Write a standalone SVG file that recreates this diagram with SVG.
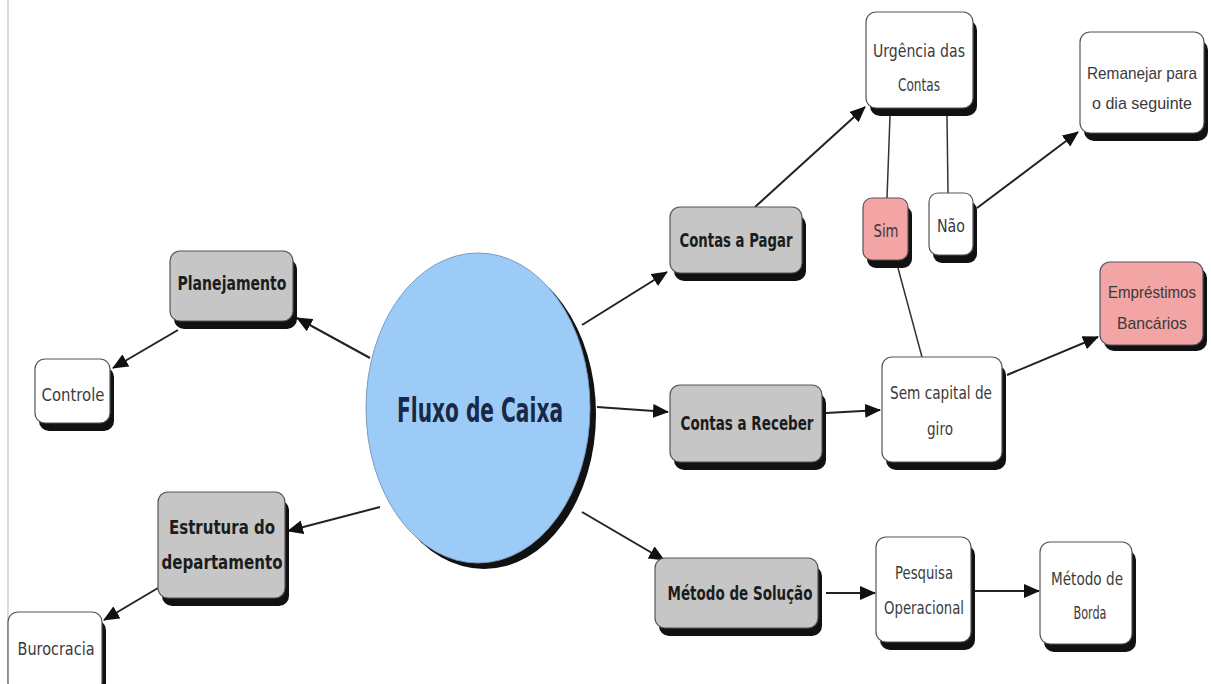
<svg xmlns="http://www.w3.org/2000/svg" width="1211" height="684" viewBox="0 0 1211 684">
<style>
.sh{fill:#111;}
.bx{stroke:#555;stroke-width:1.2;}
.g{fill:#c6c6c6;}
.w{fill:#ffffff;}
.p{fill:#f3a4a4;}
.tb{font-family:"DejaVu Sans",Verdana,sans-serif;font-weight:bold;font-size:19px;fill:#1c1c1c;text-anchor:middle;dominant-baseline:central;}
.tr{font-family:"DejaVu Sans",Verdana,sans-serif;font-size:18px;fill:#3a3a3a;text-anchor:middle;dominant-baseline:central;}
.tn{font-family:"Liberation Sans",Arial,sans-serif;font-size:17px;fill:#3a3a3a;text-anchor:middle;dominant-baseline:central;}
.ca{stroke:#222;stroke-width:2;fill:none;marker-end:url(#ah);}
.cl{stroke:#333;stroke-width:1.5;fill:none;}
</style>
<defs>
<marker id="ah" markerUnits="userSpaceOnUse" markerWidth="16" markerHeight="14" refX="15" refY="7" orient="auto">
<path d="M0,0 L16,7 L0,14 z" fill="#111"/>
</marker>
</defs>
<rect x="0" y="0" width="1211" height="684" fill="#ffffff"/>
<line x1="8" y1="0" x2="8" y2="684" stroke="#d0d0d0" stroke-width="1.5"/>
<g id="connectors">
<line class="ca" x1="370" y1="358" x2="297" y2="318"/>
<line class="ca" x1="178" y1="330" x2="113" y2="368"/>
<line class="ca" x1="380" y1="507" x2="288" y2="531"/>
<line class="ca" x1="158" y1="588" x2="104" y2="620"/>
<line class="ca" x1="582" y1="325" x2="667" y2="272"/>
<line class="ca" x1="597" y1="407" x2="668" y2="412"/>
<line class="ca" x1="582" y1="512" x2="664" y2="560"/>
<line class="ca" x1="755" y1="207" x2="865" y2="107"/>
<line class="cl" x1="890" y1="116" x2="887" y2="198"/>
<line class="cl" x1="947" y1="116" x2="948" y2="193"/>
<line class="ca" x1="977" y1="208" x2="1078" y2="132"/>
<line class="cl" x1="898" y1="268" x2="922" y2="357"/>
<line class="ca" x1="826" y1="413" x2="880" y2="410"/>
<line class="ca" x1="1007" y1="375" x2="1098" y2="337"/>
<line class="ca" x1="826" y1="593" x2="875" y2="593"/>
<line class="ca" x1="975" y1="591" x2="1039" y2="591"/>
</g>
<g id="fluxo">
<ellipse cx="484" cy="414" rx="112" ry="155" fill="#111"/>
<ellipse cx="478" cy="408" rx="112" ry="155" fill="#9ccbf7" stroke="#7a9cc0" stroke-width="1"/>
<text x="480" y="410" font-family="DejaVu Sans,Verdana,sans-serif" font-weight="bold" font-size="33" fill="#1a2745" text-anchor="middle" dominant-baseline="central" textLength="166" lengthAdjust="spacingAndGlyphs">Fluxo de Caixa</text>
</g>
<g id="planejamento">
<rect class="sh" x="174" y="259" width="123" height="70" rx="10"/>
<rect class="bx g" x="170" y="251" width="123" height="70" rx="10"/>
<text class="tb" x="232" y="283" textLength="109" lengthAdjust="spacingAndGlyphs">Planejamento</text>
</g>
<g id="controle">
<rect class="sh" x="39" y="367" width="75" height="64" rx="10"/>
<rect class="bx w" x="35" y="359" width="75" height="64" rx="10"/>
<text class="tr" x="73" y="394" textLength="63" lengthAdjust="spacingAndGlyphs">Controle</text>
</g>
<g id="estrutura">
<rect class="sh" x="162" y="500" width="127" height="106" rx="10"/>
<rect class="bx g" x="158" y="492" width="127" height="106" rx="10"/>
<text class="tb" x="222" y="527" textLength="106" lengthAdjust="spacingAndGlyphs">Estrutura do</text>
<text class="tb" x="222" y="562" textLength="121" lengthAdjust="spacingAndGlyphs">departamento</text>
</g>
<g id="burocracia">
<rect class="sh" x="12" y="620" width="94" height="80" rx="10"/>
<rect class="bx w" x="8" y="612" width="94" height="80" rx="10"/>
<text class="tr" x="56" y="648" textLength="77" lengthAdjust="spacingAndGlyphs">Burocracia</text>
</g>
<g id="contas-pagar">
<rect class="sh" x="674" y="215" width="132" height="66" rx="10"/>
<rect class="bx g" x="670" y="207" width="132" height="66" rx="10"/>
<text class="tb" x="736" y="240" textLength="113" lengthAdjust="spacingAndGlyphs">Contas a Pagar</text>
</g>
<g id="contas-receber">
<rect class="sh" x="674" y="393" width="152" height="77" rx="10"/>
<rect class="bx g" x="670" y="385" width="152" height="77" rx="10"/>
<text class="tb" x="747" y="423" textLength="133" lengthAdjust="spacingAndGlyphs">Contas a Receber</text>
</g>
<g id="metodo-solucao">
<rect class="sh" x="659" y="566" width="163" height="70" rx="10"/>
<rect class="bx g" x="655" y="558" width="163" height="70" rx="10"/>
<text class="tb" x="740" y="593" textLength="145" lengthAdjust="spacingAndGlyphs">Método de Solução</text>
</g>
<g id="urgencia">
<rect class="sh" x="870" y="20" width="107" height="96" rx="10"/>
<rect class="bx w" x="866" y="12" width="107" height="96" rx="10"/>
<text class="tr" x="919" y="50" textLength="92" lengthAdjust="spacingAndGlyphs">Urgência das</text>
<text class="tr" x="919" y="84" textLength="42" lengthAdjust="spacingAndGlyphs">Contas</text>
</g>
<g id="remanejar">
<rect class="sh" x="1084" y="40" width="124" height="101" rx="10"/>
<rect class="bx w" x="1080" y="32" width="124" height="101" rx="10"/>
<text class="tn" x="1142" y="73" textLength="110" lengthAdjust="spacingAndGlyphs">Remanejar para</text>
<text class="tn" x="1142" y="103" textLength="100" lengthAdjust="spacingAndGlyphs">o dia seguinte</text>
</g>
<g id="sim">
<rect class="sh" x="867" y="206" width="45" height="62" rx="9"/>
<rect class="bx p" x="863" y="198" width="45" height="62" rx="9"/>
<text class="tr" x="886" y="230" textLength="25" lengthAdjust="spacingAndGlyphs">Sim</text>
</g>
<g id="nao">
<rect class="sh" x="933" y="201" width="44" height="62" rx="9"/>
<rect class="bx w" x="929" y="193" width="44" height="62" rx="9"/>
<text class="tr" x="951" y="225" textLength="28" lengthAdjust="spacingAndGlyphs">Não</text>
</g>
<g id="emprestimos">
<rect class="sh" x="1104" y="268" width="103" height="83" rx="10"/>
<rect class="bx p" x="1100" y="262" width="103" height="83" rx="10"/>
<text class="tn" x="1152" y="292" textLength="88" lengthAdjust="spacingAndGlyphs">Empréstimos</text>
<text class="tn" x="1152" y="323" textLength="70" lengthAdjust="spacingAndGlyphs">Bancários</text>
</g>
<g id="sem-capital">
<rect class="sh" x="886" y="365" width="120" height="105" rx="10"/>
<rect class="bx w" x="882" y="357" width="120" height="105" rx="10"/>
<text class="tr" x="941" y="392" textLength="102" lengthAdjust="spacingAndGlyphs">Sem capital de</text>
<text class="tr" x="940" y="428" textLength="26" lengthAdjust="spacingAndGlyphs">giro</text>
</g>
<g id="pesquisa">
<rect class="sh" x="880" y="545" width="95" height="105" rx="10"/>
<rect class="bx w" x="876" y="537" width="95" height="105" rx="10"/>
<text class="tr" x="924" y="572" textLength="58" lengthAdjust="spacingAndGlyphs">Pesquisa</text>
<text class="tr" x="924" y="607" textLength="80" lengthAdjust="spacingAndGlyphs">Operacional</text>
</g>
<g id="metodo-borda">
<rect class="sh" x="1044" y="550" width="92" height="102" rx="10"/>
<rect class="bx w" x="1040" y="542" width="92" height="102" rx="10"/>
<text class="tr" x="1087" y="578" textLength="72" lengthAdjust="spacingAndGlyphs">Método de</text>
<text class="tr" x="1090" y="612" textLength="33" lengthAdjust="spacingAndGlyphs">Borda</text>
</g>
</svg>
